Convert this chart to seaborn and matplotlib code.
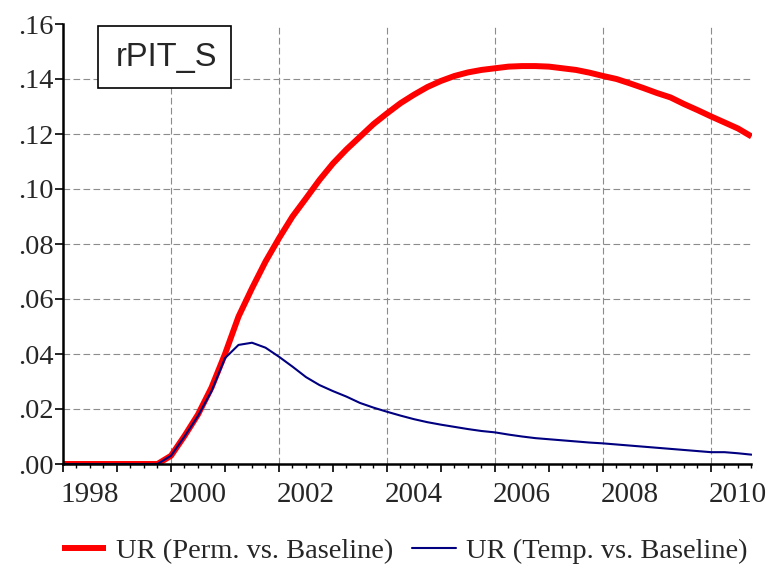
import numpy as np
import pandas as pd
import matplotlib
matplotlib.use("Agg")
import matplotlib.pyplot as plt
import matplotlib.transforms as mtransforms
from matplotlib.patches import Rectangle
import seaborn as sns

# ---- data (quarterly, 1998Q1 .. 2010Q4) ----
quarters = pd.period_range("1998Q1", "2010Q4", freq="Q")
perm_vs_baseline = [
    0.0, 0.0, 0.0, 0.0, 0.0, 0.0, 0.0, 0.0,
    0.0030, 0.0102, 0.0180, 0.0278,
    0.0400, 0.0536, 0.0639, 0.0736,
    0.0821, 0.0900, 0.0966, 0.1033,
    0.1093, 0.1144, 0.1190, 0.1236,
    0.1275, 0.1312, 0.1343, 0.1371,
    0.1393, 0.1411, 0.1424, 0.1433,
    0.1439, 0.1445, 0.1447, 0.1447,
    0.1445, 0.1439, 0.1433, 0.1423,
    0.1411, 0.1400, 0.1384, 0.1367,
    0.1349, 0.1333, 0.1309, 0.1287,
    0.1264, 0.1242, 0.1220, 0.1191,
]
temp_vs_baseline = [
    0.0, 0.0, 0.0, 0.0, 0.0, 0.0, 0.0, 0.0,
    0.0030, 0.0100, 0.0175, 0.0265,
    0.0385, 0.0433, 0.0441, 0.0423,
    0.0390, 0.0354, 0.0316, 0.0287,
    0.0265, 0.0245, 0.0222, 0.0205,
    0.0190, 0.0176, 0.0163, 0.0152,
    0.0143, 0.0135, 0.0127, 0.0120,
    0.0115, 0.0107, 0.0100, 0.0094,
    0.0090, 0.0086, 0.0082, 0.0078,
    0.0075, 0.0071, 0.0067, 0.0063,
    0.0059, 0.0055, 0.0051, 0.0047,
    0.0043, 0.0043, 0.0039, 0.0034,
]
series_names = ["UR (Perm. vs. Baseline)", "UR (Temp. vs. Baseline)"]
series_colors = ["#FF0000", "#000080"]
year_labels = ["1998", "2000", "2002", "2004", "2006", "2008", "2010"]
y_ticks = [0.00, 0.02, 0.04, 0.06, 0.08, 0.10, 0.12, 0.14, 0.16]
y_tick_labels = [".00", ".02", ".04", ".06", ".08", ".10", ".12", ".14", ".16"]
title_text = "rPIT_S"

# ---- frame ----
t = np.array([q.year + (q.quarter - 1) / 4 for q in quarters])
df = pd.DataFrame({
    "t": np.concatenate([t, t]),
    "value": perm_vs_baseline + temp_vs_baseline,
    "series": [series_names[0]] * len(t) + [series_names[1]] * len(t),
})

sns.set_style("white")
plt.rcParams["font.family"] = ["Liberation Serif", "DejaVu Serif"]

fig = plt.figure(figsize=(7.70, 5.69), dpi=100)
ax = fig.add_axes([63 / 770, 1 - 464 / 569, 688.5 / 770, 440 / 569])

sns.lineplot(data=df[df.series == series_names[0]], x="t", y="value",
             color=series_colors[0], linewidth=4.3, label=series_names[0], ax=ax,
             solid_joinstyle="round", solid_capstyle="butt")
sns.lineplot(data=df[df.series == series_names[1]], x="t", y="value",
             color=series_colors[1], linewidth=1.5, label=series_names[1], ax=ax)

ax.set_xlim(t[0], t[-1])
ax.set_ylim(0, 0.16)
ax.set_xlabel("")
ax.set_ylabel("")

# spines
for s in ["top", "right"]:
    ax.spines[s].set_visible(False)
for s in ["left", "bottom"]:
    ax.spines[s].set_color("black")
    ax.spines[s].set_linewidth(1.8)
    ax.spines[s].set_zorder(5)

# grid
for yv in y_ticks[1:-1]:
    ax.axhline(yv, color="#8c8c8c", lw=0.8, ls=(0, (6, 3)), zorder=0)
for yl in year_labels[1:]:
    ax.axvline(int(yl), color="#8c8c8c", lw=0.8, ls=(0, (6, 3)), zorder=0)

# y ticks
ax.set_yticks(y_ticks)
ax.set_yticklabels(y_tick_labels)
ax.tick_params(axis="y", direction="out", length=5.5, width=1.2, pad=1.0,
               labelsize=20.5, left=True, color="black")

# x ticks: years major, quarters minor, labels centred mid-year
years = np.arange(int(year_labels[0]), int(year_labels[-1]) + 1)
ax.set_xticks(years)
ax.set_xticklabels([])
ax.set_xticks(t, minor=True)
ax.tick_params(axis="x", which="major", direction="out", length=5.5, width=1.2,
               bottom=True, color="black")
ax.tick_params(axis="x", which="minor", direction="out", length=3, width=1.0,
               bottom=True, color="black")
trans = mtransforms.blended_transform_factory(ax.transData, ax.transAxes)
for yl in year_labels:
    ax.text(int(yl) + 0.5, -0.042, yl, transform=trans, ha="center", va="top",
            fontsize=21)

# title box
fig.add_artist(Rectangle((98 / 770, 1 - 88 / 569), 133 / 770, 62 / 569,
                         transform=fig.transFigure, facecolor="white",
                         edgecolor="black", linewidth=1.2, zorder=10))
fig.text(166 / 770, 1 - 57 / 569, title_text, ha="center", va="center",
         fontsize=23.5, family=["Liberation Sans", "DejaVu Sans"], zorder=11)

# legend
ax.get_legend().remove()
handles, labels = ax.get_legend_handles_labels()
fig.legend(handles, labels, loc="center", bbox_to_anchor=(0.526, 1 - 551 / 569),
           ncol=2, frameon=False, fontsize=20.5, handlelength=1.55,
           handletextpad=0.35, columnspacing=0.65)

fig.savefig("out.png", dpi=100)
